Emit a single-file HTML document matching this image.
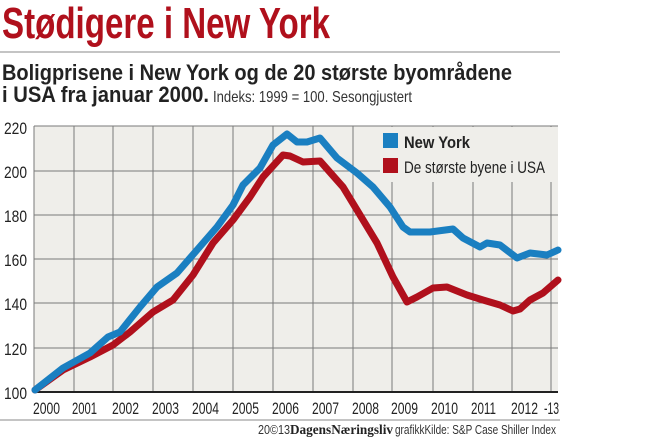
<!DOCTYPE html>
<html><head><meta charset="utf-8"><style>
html,body{margin:0;padding:0;background:#fff;width:660px;height:440px;overflow:hidden}
svg{display:block;font-family:"Liberation Sans",sans-serif}
</style></head><body>
<svg width="660" height="440" viewBox="0 0 660 440" xmlns="http://www.w3.org/2000/svg">
<text x="2" y="38" font-size="44" font-weight="bold" fill="#b0101c" textLength="328" lengthAdjust="spacingAndGlyphs">Stødigere i New York</text>
<line x1="0" y1="52" x2="560" y2="52" stroke="#8a8a8a" stroke-width="1"/>
<text x="2" y="80" font-size="22" font-weight="bold" fill="#222" textLength="510" lengthAdjust="spacingAndGlyphs">Boligprisene i New York og de 20 største byområdene</text>
<text x="2" y="102" font-size="22" font-weight="bold" fill="#222" textLength="207" lengthAdjust="spacingAndGlyphs">i USA fra januar 2000.</text>
<text x="213" y="102" font-size="16" fill="#333" textLength="199" lengthAdjust="spacingAndGlyphs">Indeks: 1999 = 100. Sesongjustert</text>
<rect x="34" y="126" width="524" height="266" fill="#efeeea"/>
<g stroke="#7a7a7a" stroke-width="1">
<line x1="34" y1="126" x2="558" y2="126"/>
<line x1="34" y1="171" x2="558" y2="171"/>
<line x1="34" y1="215" x2="558" y2="215"/>
<line x1="34" y1="259" x2="558" y2="259"/>
<line x1="34" y1="303" x2="558" y2="303"/>
<line x1="34" y1="348" x2="558" y2="348"/>
<line x1="34" y1="126" x2="34" y2="392"/>
<line x1="74" y1="126" x2="74" y2="392"/>
<line x1="113" y1="126" x2="113" y2="392"/>
<line x1="153" y1="126" x2="153" y2="392"/>
<line x1="193" y1="126" x2="193" y2="392"/>
<line x1="233" y1="126" x2="233" y2="392"/>
<line x1="273" y1="126" x2="273" y2="392"/>
<line x1="313" y1="126" x2="313" y2="392"/>
<line x1="353" y1="126" x2="353" y2="392"/>
<line x1="392" y1="126" x2="392" y2="392"/>
<line x1="433" y1="126" x2="433" y2="392"/>
<line x1="473" y1="126" x2="473" y2="392"/>
<line x1="512" y1="126" x2="512" y2="392"/>
<line x1="551" y1="126" x2="551" y2="392"/>
</g>
<rect x="380" y="127" width="178" height="55" fill="#efeeea"/>
<line x1="34" y1="392" x2="558" y2="392" stroke="#222" stroke-width="2"/>
<polyline fill="none" stroke="#b0101c" stroke-width="7" stroke-linejoin="round" stroke-linecap="round" points="35,390 63,370 90,357 113,345 130,332 153,312 173,300 193,275 213,243 233,220 250,197 263,177 283,155 290,156 303,162 320,161 343,187 357,210 377,243 393,277 407,302 417,297 433,288 447,287 467,295 483,300 500,305 513,311 520,309 530,300 543,293 558,280"/>
<polyline fill="none" stroke="#1a7fc1" stroke-width="7" stroke-linejoin="round" stroke-linecap="round" points="35,390 63,368 90,353 108,337 120,332 140,307 157,287 177,273 197,250 217,227 233,205 243,185 260,168 273,145 287,134 297,142 307,142 320,138 337,158 357,173 373,187 390,207 403,227 410,232 430,232 453,229 463,238 480,247 487,243 500,245 517,258 530,253 547,255 558,250"/>
<rect x="383" y="133" width="15" height="15" fill="#1a7fc1"/>
<text x="404" y="148" font-size="17" font-weight="bold" fill="#222" textLength="66" lengthAdjust="spacingAndGlyphs">New York</text>
<rect x="383" y="158" width="15" height="15" fill="#b0101c"/>
<text x="404" y="173" font-size="17" fill="#222" textLength="141" lengthAdjust="spacingAndGlyphs">De største byene i USA</text>
<g font-size="17" fill="#222" text-anchor="end">
<text x="27" y="134" textLength="23" lengthAdjust="spacingAndGlyphs">220</text>
<text x="27" y="178" textLength="23" lengthAdjust="spacingAndGlyphs">200</text>
<text x="27" y="222" textLength="23" lengthAdjust="spacingAndGlyphs">180</text>
<text x="27" y="266" textLength="23" lengthAdjust="spacingAndGlyphs">160</text>
<text x="27" y="310" textLength="23" lengthAdjust="spacingAndGlyphs">140</text>
<text x="27" y="355" textLength="23" lengthAdjust="spacingAndGlyphs">120</text>
<text x="27" y="399" textLength="23" lengthAdjust="spacingAndGlyphs">100</text>
</g>
<g font-size="17" fill="#222">
<text x="33" y="414" textLength="27" lengthAdjust="spacingAndGlyphs">2000</text>
<text x="72" y="414" textLength="25" lengthAdjust="spacingAndGlyphs">2001</text>
<text x="112" y="414" textLength="27" lengthAdjust="spacingAndGlyphs">2002</text>
<text x="152" y="414" textLength="27" lengthAdjust="spacingAndGlyphs">2003</text>
<text x="192" y="414" textLength="27" lengthAdjust="spacingAndGlyphs">2004</text>
<text x="232" y="414" textLength="27" lengthAdjust="spacingAndGlyphs">2005</text>
<text x="272" y="414" textLength="27" lengthAdjust="spacingAndGlyphs">2006</text>
<text x="312" y="414" textLength="27" lengthAdjust="spacingAndGlyphs">2007</text>
<text x="352" y="414" textLength="27" lengthAdjust="spacingAndGlyphs">2008</text>
<text x="391" y="414" textLength="27" lengthAdjust="spacingAndGlyphs">2009</text>
<text x="431" y="414" textLength="27" lengthAdjust="spacingAndGlyphs">2010</text>
<text x="471" y="414" textLength="25" lengthAdjust="spacingAndGlyphs">2011</text>
<text x="511" y="414" textLength="27" lengthAdjust="spacingAndGlyphs">2012</text>
<text x="544" y="414" textLength="15" lengthAdjust="spacingAndGlyphs">-13</text>
</g>
<line x1="0" y1="420" x2="560" y2="420" stroke="#8a8a8a" stroke-width="1"/>
<text x="258" y="434" font-size="13" fill="#333" textLength="32" lengthAdjust="spacingAndGlyphs">20©13</text>
<text x="290" y="434" font-size="14" font-weight="bold" fill="#222" font-family="Liberation Serif, serif" textLength="103" lengthAdjust="spacingAndGlyphs">DagensNæringsliv</text>
<text x="395" y="434" font-size="13" fill="#333" textLength="161" lengthAdjust="spacingAndGlyphs">grafikkKilde: S&amp;P Case Shiller Index</text>
</svg>
</body></html>
